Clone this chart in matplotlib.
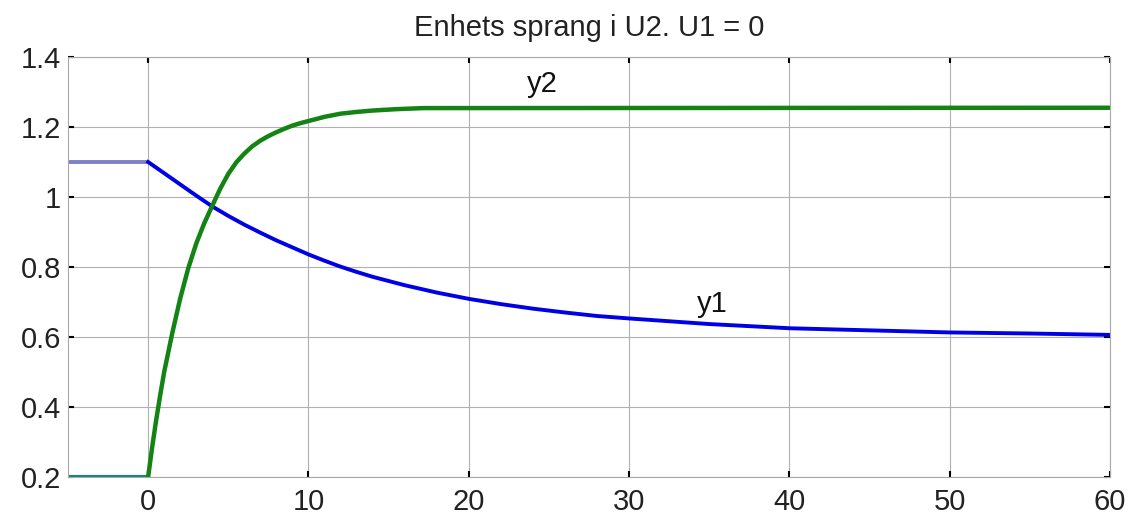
import numpy as np
import matplotlib
matplotlib.use('Agg')
import matplotlib.pyplot as plt

plt.rcParams['font.family'] = ['Liberation Sans', 'DejaVu Sans']

# stegsvar
t_pre = [-5, 0]
y1_pre = [1.10, 1.10]
y2_pre = [0.20, 0.20]

t_y1 = [0, 1, 2, 3, 4, 5, 6, 7, 8, 9, 10, 11, 12, 13, 14, 16, 18, 20, 22, 24,
        26, 28, 30, 32.5, 35, 37.5, 40, 45, 50, 55, 60]
y1 = [1.10, 1.068, 1.036, 1.004, 0.973, 0.946, 0.921, 0.898, 0.876, 0.856,
      0.836, 0.818, 0.801, 0.786, 0.772, 0.748, 0.727, 0.709, 0.694, 0.681,
      0.67, 0.66, 0.653, 0.645, 0.637, 0.631, 0.625, 0.619, 0.613, 0.610,
      0.606]

t_y2 = [0, 0.25, 0.5, 0.75, 1.0, 1.5, 2.0, 2.5, 3.0, 3.5, 4.0, 4.5, 5.0, 5.5,
        6.0, 6.5, 7.0, 7.5, 8.0, 8.5, 9.0, 9.5, 10.0, 11.0, 12.0, 13.0, 14.0,
        15.5, 17.2, 60]
y2 = [0.20, 0.285, 0.362, 0.433, 0.50, 0.61, 0.71, 0.796, 0.867, 0.925, 0.975,
      1.024, 1.066, 1.099, 1.124, 1.145, 1.161, 1.174, 1.185, 1.195, 1.204,
      1.211, 1.217, 1.229, 1.238, 1.243, 1.247, 1.251, 1.254, 1.255]

x_ticks = [0, 10, 20, 30, 40, 50, 60]
y_ticks = [0.2, 0.4, 0.6, 0.8, 1.0, 1.2, 1.4]
y_ticklabels = ['0.2', '0.4', '0.6', '0.8', '1', '1.2', '1.4']

fig = plt.figure(figsize=(11.33, 5.2), dpi=100)
ax = fig.add_axes([0.060, 0.0827, 0.9197, 0.8077])

ax.plot(t_pre, y1_pre, color='#8080c8', lw=2.8, solid_capstyle='butt')
ax.plot(t_pre, y2_pre, color='#1a8080', lw=3.0, solid_capstyle='butt')
ax.plot(t_y1, y1, color='#0000e6', lw=2.8)
ax.plot(t_y2, y2, color='#138313', lw=3.2)

ax.text(24.6, 1.30, 'y2', fontsize=21, ha='center', va='baseline', color='#111111')
ax.text(35.2, 0.67, 'y1', fontsize=21, ha='center', va='baseline', color='#111111')

ax.set_xlim(-5, 60)
ax.set_ylim(0.2, 1.4)
ax.set_xticks(x_ticks)
ax.set_yticks(y_ticks)
ax.set_yticklabels(y_ticklabels)
ax.grid(True, color='#b0b0b0', lw=0.8)
for s in ax.spines.values():
    s.set_color('#a8a8a8')
    s.set_linewidth(0.8)
ax.tick_params(direction='in', length=4, width=1.5, top=True, right=True,
               labelsize=21, colors='black', labelcolor='#222222')
ax.tick_params(axis='x', pad=8)
ax.tick_params(axis='y', pad=5)

ax.set_title('Enhets sprang i U2. U1 = 0', fontsize=21, pad=15, color='#222222')

fig.savefig('out.png', dpi=100)
